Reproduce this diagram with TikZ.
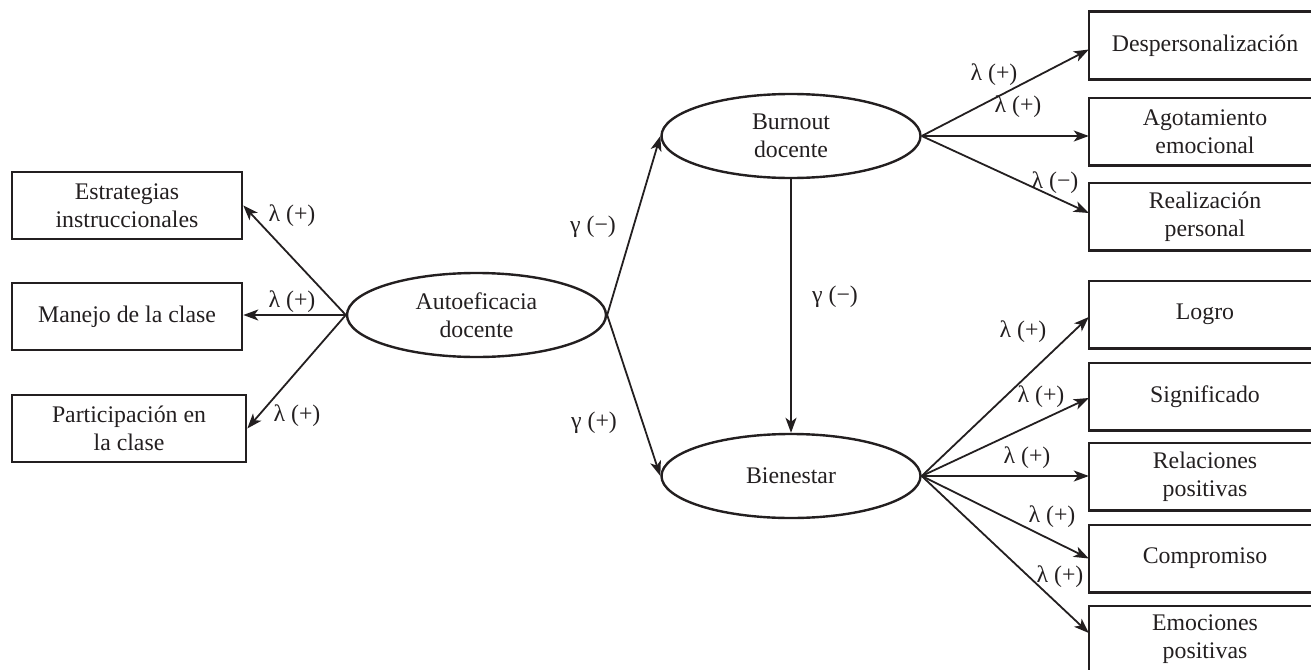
\documentclass[tikz,border=0pt]{standalone}
\usepackage{fontspec}
\setmainfont{Liberation Serif}
\usetikzlibrary{shapes.geometric,arrows.meta}
\definecolor{ink}{RGB}{35,31,32}
\begin{document}
\begin{tikzpicture}[x=1pt,y=-1pt,
  font=\fontsize{23.8}{28}\selectfont,
  boxnode/.style={draw=ink,line width=2.6pt,rectangle,minimum height=67pt,inner sep=0pt,align=center,text=ink},
  rbox/.style={rectangle,minimum height=67pt,minimum width=232pt,inner sep=0pt,align=center,text=ink},
  boxline/.style={draw=ink,line width=2.6pt},
  latent/.style={draw=ink,line width=2.4pt,ellipse,minimum width=259pt,minimum height=84pt,inner sep=0pt,align=center,text=ink},
  conn/.style={draw=ink,line width=1.8pt,-{Stealth[length=15pt,width=11pt,inset=4pt]}},
  lab/.style={inner sep=0pt,text=ink}
]
\useasboundingbox (0,0) rectangle (1311,669);

% left indicators
\node[boxnode,minimum width=230pt] (est) at (127,205.5) {Estrategias\\instruccionales};
\node[boxnode,minimum width=230pt] (man) at (127,316.5) {Manejo de la clase};
\node[boxnode,minimum width=234pt] (par) at (129,428.5) {Participación en\\la clase};

% latent variables
\node[latent] (auto) at (476.5,315) {Autoeficacia\\docente};
\node[latent] (burn) at (791,136) {Burnout\\docente};
\node[latent] (bien) at (791,476) {Bienestar};

% right indicators (boxes run past the right edge)
\node[rbox] (desp) at (1205,45.5) {Despersonalización};
\node[rbox] (agot) at (1205,131.5) {Agotamiento\\emocional};
\node[rbox] (real) at (1205,216.5) {Realización\\personal};
\node[rbox] (logro) at (1205,314.5) {Logro};
\node[rbox] (sign) at (1205,396.5) {Significado};
\node[rbox] (rel) at (1205,476.5) {Relaciones\\positivas};
\node[rbox] (comp) at (1205,558.5) {Compromiso};
\node[rbox] (emo) at (1205,639.5) {Emociones\\positivas};
\foreach \n in {desp,agot,real,logro,sign,rel,comp,emo}
  \draw[boxline] (\n.south west) rectangle ([xshift=30pt]\n.north east);

% connectors
\draw[conn] (auto.west) -- (est.east);
\draw[conn] (auto.west) -- (auto.west -| man.east);
\draw[conn] (auto.west) -- (par.east);
\draw[conn] (auto.east) -- (burn.west);
\draw[conn] (auto.east) -- (bien.west);
\draw[conn] (burn.south) -- (bien.north);
\draw[conn] (burn.east) -- ([yshift=-4pt]desp.west);
\draw[conn] (burn.east) -- (burn.east -| agot.west);
\draw[conn] (burn.east) -- ([yshift=3.5pt]real.west);
\draw[conn] (bien.east) -- ([yshift=-2.5pt]logro.west);
\draw[conn] (bien.east) -- ([yshift=-1.5pt]sign.west);
\draw[conn] (bien.east) -- (bien.east -| rel.west);
\draw[conn] (bien.east) -- (comp.west);
\draw[conn] (bien.east) -- ([yshift=6.5pt]emo.west);

% labels
\node[lab] (l1) at (292,216) {λ (+)};
\node[lab] (l2) at (292,302) {λ (+)};
\node[lab] (l3) at (297,416) {λ (+)};
\node[lab] (g1) at (593,227) {γ (−)};
\node[lab] (g2) at (594,423) {γ (+)};
\node[lab] (g3) at (835,297) {γ (−)};
\node[lab] (l4) at (994,75) {λ (+)};
\node[lab] (l5) at (1018,107) {λ (+)};
\node[lab] (l6) at (1055,183) {λ (−)};
\node[lab] (l7) at (1023,332) {λ (+)};
\node[lab] (l8) at (1041,397) {λ (+)};
\node[lab] (l9) at (1027,458) {λ (+)};
\node[lab] (l10) at (1052,517) {λ (+)};
\node[lab] (l11) at (1060,577) {λ (+)};
\end{tikzpicture}
\end{document}
